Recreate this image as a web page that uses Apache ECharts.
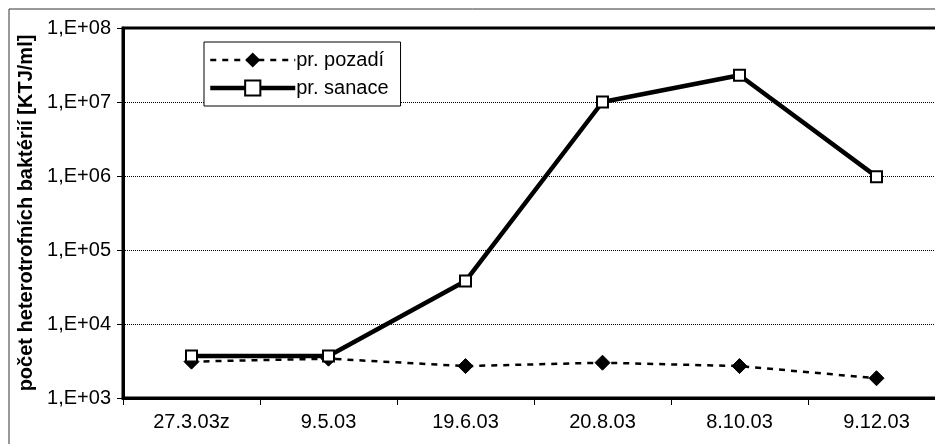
<!DOCTYPE html>
<html>
<head>
<meta charset="utf-8">
<script src="https://cdn.jsdelivr.net/npm/echarts@6/dist/echarts.min.js"></script>
<style>
  html, body { margin: 0; padding: 0; background: #fff; }
  #chart { width: 935px; height: 444px; }
</style>
</head>
<body>
<div id="chart"></div>
<script>
var dates = ['27.3.03z', '9.5.03', '19.6.03', '20.8.03', '8.10.03', '9.12.03'];
var pozadi = [3100, 3400, 2700, 3000, 2700, 1850];
var sanace = [3700, 3700, 38000, 10000000, 23000000, 980000];
var yTickLabels = { 3: '1,E+03', 4: '1,E+04', 5: '1,E+05', 6: '1,E+06', 7: '1,E+07', 8: '1,E+08' };

var chart = echarts.init(document.getElementById('chart'));
var font = 'Liberation Sans, Arial, sans-serif';

var option = {
  animation: false,
  backgroundColor: '#fff',
  graphic: [{
    type: 'rect',
    shape: { x: 9, y: 9, width: 960, height: 460 },
    style: { fill: 'none', stroke: '#333', lineWidth: 1 },
    z: -1
  }],
  grid: {
    left: 123, top: 28, width: 822, bottom: 46,
    outerBoundsMode: 'none',
    containLabel: false,
    show: true, borderColor: '#000', borderWidth: 3
  },
  legend: {
    orient: 'vertical',
    left: 204, top: 42,
    itemWidth: 85, itemHeight: 19, itemGap: 8,
    padding: [8, 12, 8, 4],
    backgroundColor: '#fff',
    borderColor: '#000', borderWidth: 1,
    textStyle: { fontFamily: font, fontSize: 20, color: '#000', padding: [0, 0, 0, -4] },
    data: [
      { name: 'pr. pozadí', lineStyle: { width: 2.5, type: [6, 6] } },
      { name: 'pr. sanace', lineStyle: { width: 4.5 } }
    ]
  },
  xAxis: {
    type: 'category',
    data: dates,
    boundaryGap: true,
    axisLine: { lineStyle: { color: '#000', width: 3 } },
    axisTick: { show: true, length: 7, lineStyle: { color: '#000', width: 1 } },
    axisLabel: { fontFamily: font, fontSize: 20, color: '#000', margin: 14 }
  },
  yAxis: {
    type: 'log',
    logBase: 10,
    min: 1000, max: 100000000,
    name: 'počet heterotrofních baktérií [KTJ/ml]',
    nameLocation: 'middle',
    nameGap: 86,
    nameTextStyle: { fontFamily: font, fontSize: 20, fontWeight: 'bold', color: '#000' },
    axisLine: { show: true, lineStyle: { color: '#000', width: 3 } },
    axisTick: { show: true, inside: false, length: 6, lineStyle: { color: '#000', width: 1 } },
    axisLabel: {
      fontFamily: font, fontSize: 20, color: '#000', margin: 12,
      formatter: function (v) { return yTickLabels[Math.round(Math.log10(v))] || ''; }
    },
    splitLine: { show: true, lineStyle: { color: '#000', width: 1, type: [1, 1] } }
  },
  series: [{
    name: 'pr. pozadí',
    type: 'line',
    data: pozadi,
    symbol: 'diamond',
    symbolSize: 15,
    itemStyle: { color: '#000', borderColor: '#000' },
    lineStyle: { color: '#000', width: 2.5, type: [6, 6] },
    z: 2
  }, {
    name: 'pr. sanace',
    type: 'line',
    data: sanace,
    symbol: 'rect',
    symbolSize: 11,
    itemStyle: { color: '#fff', borderColor: '#000', borderWidth: 2 },
    lineStyle: { color: '#000', width: 4.5 },
    z: 3
  }]
};
chart.setOption(option);
</script>
</body>
</html>
